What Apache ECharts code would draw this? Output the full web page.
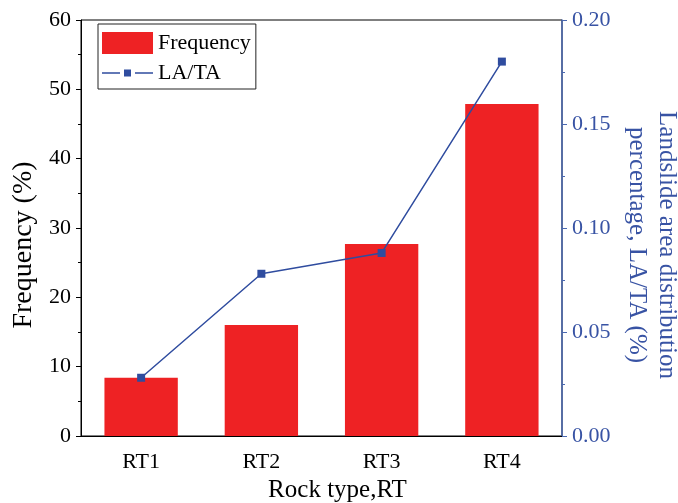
<!DOCTYPE html>
<html>
<head>
<meta charset="utf-8">
<script src="https://cdn.jsdelivr.net/npm/echarts@6/dist/echarts.min.js"></script>
<style>
  html, body { margin: 0; padding: 0; background: #fff; }
  #chart { width: 678px; height: 503px; }
</style>
</head>
<body>
<div id="chart"></div>
<script>
// Rock type categories and measured values
const rockTypes = ['RT1', 'RT2', 'RT3', 'RT4'];
const frequency = [8.4, 16.0, 27.7, 47.9];       // Frequency (%)
const laTa = [0.028, 0.078, 0.088, 0.180];       // LA/TA (%)

const FONT = '"Liberation Serif", "Times New Roman", serif';
const RED = '#EE2224';
const BLUE = '#2F4C9F';
const BLUE_AXIS = '#4A68B0';
const BLUE_TEXT = '#3853A4';

// legend glyph for the line series: short segment, small square, short segment
// (tiny corner triangles keep the 51x22 bounding box so nothing is stretched)
const LINE_ICON = 'path://M0 0 L0.01 0 L0 0.01 Z M51 22 L50.99 22 L51 21.99 Z ' +
  'M0 10.3 H18 V11.7 H0 Z M22 7.5 H29 V14.5 H22 Z M33 10.3 H51 V11.7 H33 Z';

const chart = echarts.init(document.getElementById('chart'), null, { renderer: 'canvas' });

chart.setOption({
  animation: false,
  backgroundColor: '#fff',
  grid: {
    left: 81, right: 116, top: 20, bottom: 67,
    outerBoundsMode: 'none',
    containLabel: false,
    show: true, borderColor: '#000', borderWidth: 1, backgroundColor: 'transparent'
  },
  legend: {
    orient: 'vertical',
    left: 98, top: 24,
    padding: [8, 5, 5, 4],
    itemGap: 8,
    itemWidth: 51, itemHeight: 22,
    borderColor: '#222', borderWidth: 1,
    textStyle: { fontFamily: FONT, fontSize: 22, color: '#000' },
    data: [
      { name: 'Frequency', icon: 'rect' },
      { name: 'LA/TA', icon: LINE_ICON }
    ]
  },
  xAxis: [
    {
      type: 'category',
      data: rockTypes,
      position: 'bottom',
      axisLine: { lineStyle: { color: '#000', width: 1 } },
      axisTick: { alignWithLabel: true, length: 7, lineStyle: { color: '#000' } },
      axisLabel: { fontFamily: FONT, fontSize: 22, color: '#000', margin: 15 },
      name: 'Rock type,RT',
      nameLocation: 'middle',
      nameGap: 41,
      nameTextStyle: { fontFamily: FONT, fontSize: 25, color: '#000', padding: [0, 0, 0, 32] }
    },
    {
      // short ticks on the category boundaries
      type: 'category',
      data: rockTypes,
      position: 'bottom',
      axisLine: { show: false },
      axisTick: { alignWithLabel: false, length: 4, lineStyle: { color: '#000' } },
      axisLabel: { show: false }
    }
  ],
  yAxis: [
    {
      type: 'value',
      min: 0, max: 60, interval: 10,
      position: 'left',
      axisLine: { show: true, lineStyle: { color: '#000', width: 1 } },
      axisTick: { show: true, length: 5, lineStyle: { color: '#000' } },
      minorTick: { show: true, splitNumber: 2, length: 3, lineStyle: { color: '#000' } },
      splitLine: { show: false },
      axisLabel: { fontFamily: FONT, fontSize: 22, color: '#000', margin: 10 },
      name: 'Frequency (%)',
      nameLocation: 'middle',
      nameGap: 42,
      nameTextStyle: { fontFamily: FONT, fontSize: 28, color: '#000', padding: [0, 34, 0, 0] }
    },
    {
      type: 'value',
      min: 0, max: 0.2, interval: 0.05,
      position: 'right',
      axisLine: { show: true, lineStyle: { color: BLUE_AXIS, width: 1.5 } },
      axisTick: { show: true, length: 5, lineStyle: { color: BLUE_AXIS } },
      minorTick: { show: true, splitNumber: 2, length: 3, lineStyle: { color: BLUE_AXIS } },
      splitLine: { show: false },
      axisLabel: {
        fontFamily: FONT, fontSize: 22, color: BLUE_TEXT, margin: 10,
        formatter: v => v.toFixed(2)
      },
      name: 'Landslide area distribution\npercentage, LA/TA (%)',
      nameLocation: 'middle',
      nameRotate: -90,
      nameGap: 60,
      nameTextStyle: {
        fontFamily: FONT, fontSize: 25, color: BLUE_TEXT, lineHeight: 30, align: 'center',
        padding: [0, 0, 0, 34]
      }
    }
  ],
  series: [
    {
      name: 'Frequency',
      type: 'bar',
      xAxisIndex: 0,
      yAxisIndex: 0,
      data: frequency,
      barWidth: '61%',
      itemStyle: { color: RED }
    },
    {
      name: 'LA/TA',
      type: 'line',
      xAxisIndex: 0,
      yAxisIndex: 1,
      data: laTa,
      symbol: 'rect',
      symbolSize: 8,
      lineStyle: { color: BLUE, width: 1.5 },
      itemStyle: { color: BLUE }
    }
  ]
});
</script>
</body>
</html>
